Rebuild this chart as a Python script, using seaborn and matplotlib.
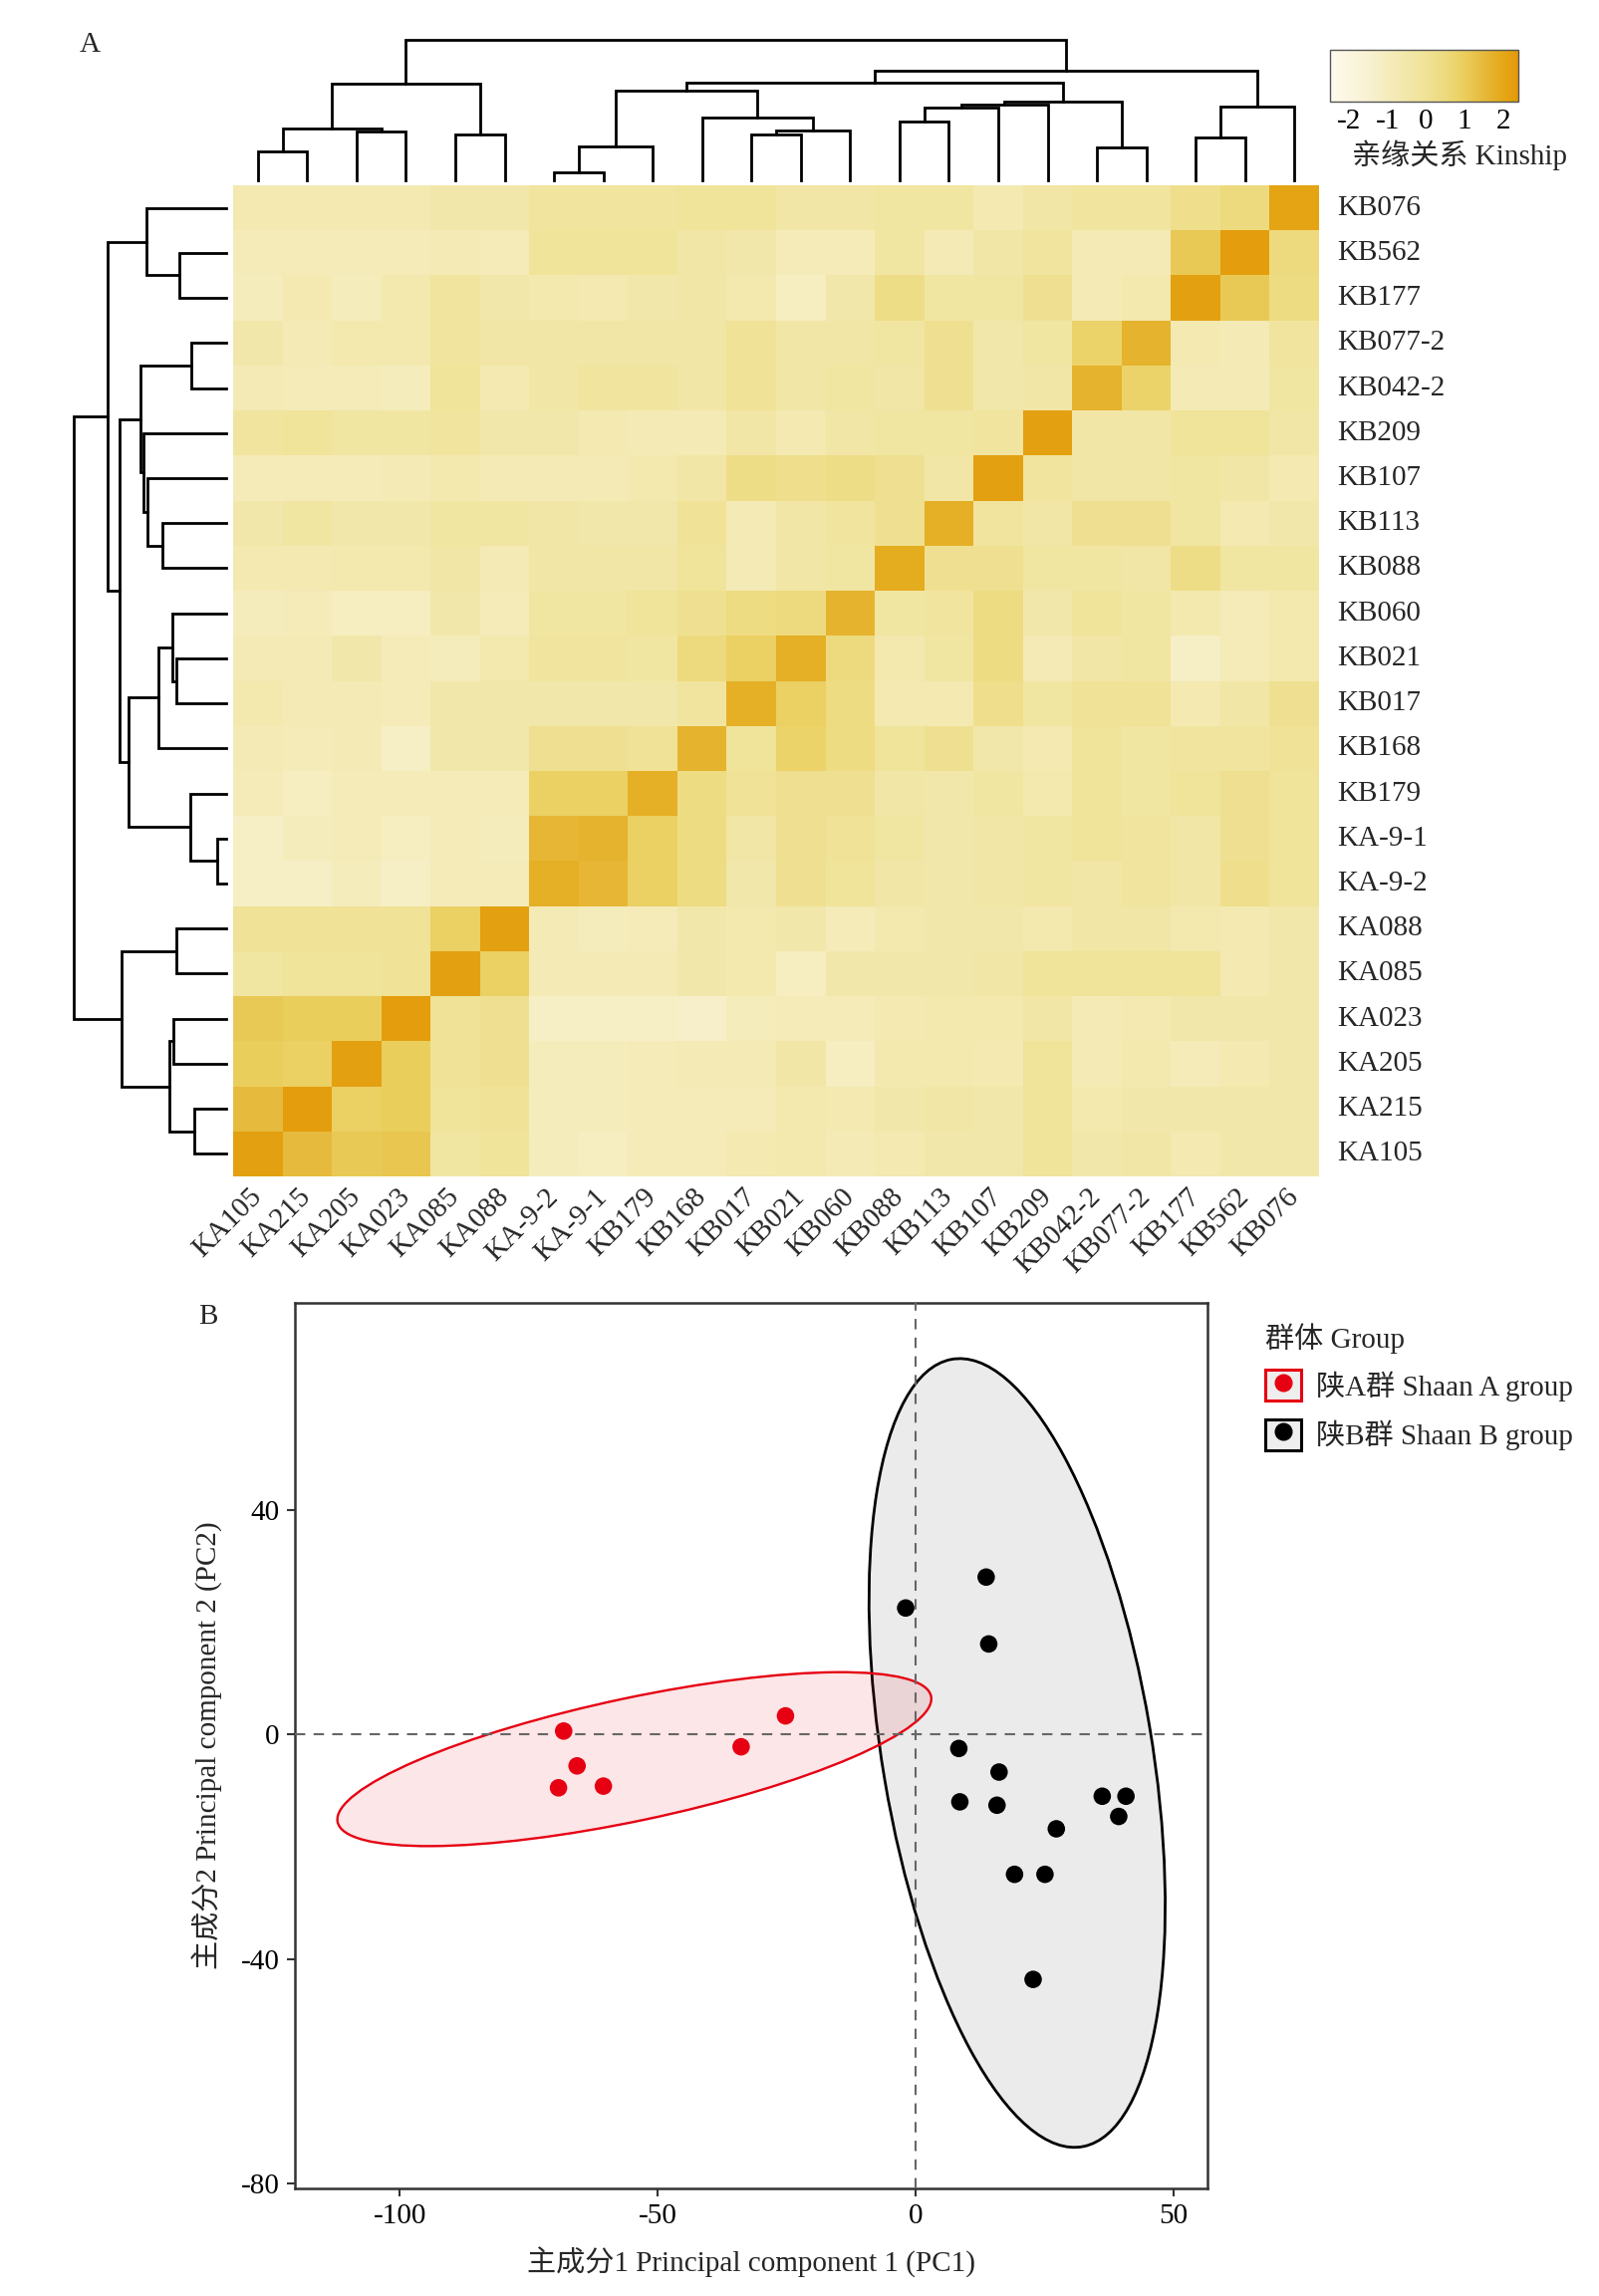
import numpy as np
import pandas as pd
import matplotlib
matplotlib.use("Agg")
import matplotlib.pyplot as plt
import seaborn as sns
from matplotlib.colors import LinearSegmentedColormap
from matplotlib.patches import Ellipse, Rectangle
from matplotlib.lines import Line2D

# ---------------- data: panel A ----------------
sample_order = ["KA105", "KA215", "KA205", "KA023", "KA085", "KA088", "KA-9-2", "KA-9-1",
                "KB179", "KB168", "KB017", "KB021", "KB060", "KB088", "KB113", "KB107",
                "KB209", "KB042-2", "KB077-2", "KB177", "KB562", "KB076"]
row_labels = sample_order[::-1]

kinship = [
    [-0.7, -0.7, -0.7, -0.7, -0.5, -0.5, -0.2, -0.2, -0.2, -0.1, -0.1, -0.4, -0.4, -0.3, -0.3, -0.7, -0.4, -0.2, -0.2, 0.2, 0.5, 2.1],
    [-0.9, -0.9, -0.9, -0.9, -0.8, -0.9, -0.1, -0.1, -0.1, -0.4, -0.5, -0.9, -0.9, -0.3, -0.8, -0.4, -0.2, -0.8, -0.8, 1.1, 2.3, 0.5],
    [-1.0, -0.7, -1.0, -0.6, -0.2, -0.5, -0.6, -0.7, -0.5, -0.4, -0.6, -1.1, -0.5, 0.3, -0.3, -0.3, 0.1, -0.8, -0.6, 2.2, 1.1, 0.4],
    [-0.5, -0.8, -0.6, -0.6, -0.2, -0.4, -0.4, -0.4, -0.4, -0.4, 0.0, -0.4, -0.4, -0.3, 0.1, -0.5, -0.3, 0.8, 1.7, -0.7, -0.8, -0.2],
    [-0.8, -0.9, -0.9, -1.0, -0.1, -0.7, -0.4, -0.2, -0.2, -0.4, 0.0, -0.4, -0.3, -0.4, 0.1, -0.5, -0.4, 1.7, 0.8, -0.8, -0.8, -0.3],
    [-0.2, -0.1, -0.3, -0.3, -0.2, -0.5, -0.5, -0.7, -0.8, -0.8, -0.4, -0.7, -0.4, -0.3, -0.3, -0.2, 2.2, -0.4, -0.4, -0.1, -0.1, -0.4],
    [-0.9, -0.9, -0.9, -0.8, -0.6, -0.8, -0.8, -0.8, -0.6, -0.4, 0.3, 0.2, 0.3, 0.1, -0.4, 2.2, -0.2, -0.4, -0.4, -0.3, -0.4, -0.7],
    [-0.5, -0.3, -0.5, -0.5, -0.3, -0.3, -0.4, -0.5, -0.5, 0.0, -0.8, -0.4, -0.2, 0.1, 1.8, -0.2, -0.4, 0.1, 0.1, -0.3, -0.7, -0.5],
    [-0.7, -0.7, -0.6, -0.6, -0.4, -0.8, -0.4, -0.4, -0.4, -0.1, -0.8, -0.4, -0.3, 1.9, 0.1, 0.1, -0.3, -0.3, -0.4, 0.3, -0.3, -0.3],
    [-1.0, -0.9, -1.1, -1.1, -0.5, -0.9, -0.3, -0.3, -0.1, 0.1, 0.4, 0.5, 1.7, -0.3, -0.2, 0.4, -0.5, -0.1, -0.3, -0.6, -0.9, -0.6],
    [-0.8, -0.8, -0.5, -0.9, -1.0, -0.6, -0.2, -0.2, -0.3, 0.5, 0.9, 1.8, 0.5, -0.6, -0.3, 0.4, -0.8, -0.4, -0.3, -1.2, -0.9, -0.6],
    [-0.6, -0.8, -0.8, -0.9, -0.5, -0.5, -0.5, -0.5, -0.5, -0.2, 1.8, 0.9, 0.4, -0.7, -0.7, 0.2, -0.3, 0.0, 0.0, -0.7, -0.4, 0.1],
    [-0.8, -0.9, -0.8, -1.2, -0.5, -0.5, 0.1, 0.1, 0.0, 1.7, -0.1, 0.8, 0.4, -0.1, 0.1, -0.5, -0.7, -0.1, -0.3, -0.2, -0.2, 0.0],
    [-0.9, -1.1, -0.9, -0.9, -0.9, -0.9, 0.9, 0.9, 1.8, 0.4, 0.0, 0.1, 0.1, -0.4, -0.5, -0.3, -0.6, -0.1, -0.3, -0.1, 0.1, -0.1],
    [-1.2, -1.0, -0.9, -1.1, -0.9, -1.0, 1.6, 1.7, 0.9, 0.4, -0.4, 0.1, 0.0, -0.3, -0.5, -0.4, -0.3, -0.1, -0.2, -0.4, 0.1, -0.1],
    [-1.2, -1.2, -1.0, -1.2, -0.9, -0.9, 1.8, 1.6, 0.9, 0.4, -0.5, 0.1, -0.1, -0.4, -0.5, -0.4, -0.3, -0.4, -0.2, -0.4, 0.2, -0.1],
    [0.0, 0.0, 0.0, 0.0, 0.9, 2.2, -0.8, -1.0, -0.9, -0.5, -0.6, -0.5, -0.9, -0.6, -0.5, -0.5, -0.6, -0.4, -0.4, -0.6, -0.7, -0.5],
    [-0.3, -0.1, -0.1, 0.0, 2.2, 0.9, -0.8, -0.8, -0.8, -0.5, -0.6, -1.1, -0.5, -0.5, -0.5, -0.4, -0.1, -0.1, -0.1, -0.1, -0.7, -0.5],
    [1.1, 1.0, 1.0, 2.3, 0.0, 0.1, -1.2, -1.2, -1.2, -1.3, -1.0, -0.9, -0.9, -0.7, -0.6, -0.6, -0.4, -0.8, -0.7, -0.5, -0.5, -0.5],
    [1.0, 0.9, 2.2, 1.0, 0.0, 0.1, -1.0, -1.0, -0.9, -0.8, -0.8, -0.4, -1.1, -0.6, -0.6, -0.7, -0.1, -0.8, -0.6, -0.9, -0.7, -0.5],
    [1.5, 2.3, 0.9, 1.0, -0.1, 0.0, -1.0, -1.0, -0.9, -0.9, -0.9, -0.6, -0.7, -0.5, -0.4, -0.5, -0.1, -0.6, -0.5, -0.5, -0.5, -0.5],
    [2.2, 1.5, 1.1, 1.2, -0.3, -0.1, -1.0, -1.1, -0.9, -0.9, -0.7, -0.6, -0.8, -0.7, -0.5, -0.5, -0.1, -0.5, -0.4, -0.7, -0.5, -0.5],
]

# hierarchical clustering tree (scipy-style ids: leaves 0..21 in sample_order)
link_left = [6, 0, 17, 22, 19, 4, 10, 2, 28, 23, 13, 9, 32, 26, 34, 36, 25, 31, 38, 40, 39]
link_right = [7, 1, 18, 8, 20, 5, 11, 3, 12, 29, 14, 30, 15, 21, 16, 24, 33, 27, 37, 35, 41]
link_height = [8.0, 29.0, 32.6, 33.5, 43.3, 45.5, 46.0, 49.0, 50.0, 52.2, 59.0, 62.5,
               72.8, 73.7, 75.9, 79.0, 90.2, 96.9, 98.2, 109.4, 140.6]

cbar_ticks = [-2, -1, 0, 1, 2]
color_values = [-2.5, -1.5, -1.0, -0.5, 0.0, 0.5, 1.0, 1.5, 2.0, 2.4]
color_list = ["#FDFAEE", "#F8F1D2", "#F5ECBC", "#F2E7AA", "#F0E296", "#EDDA7E",
              "#EACE5C", "#E6BA3C", "#E4A818", "#E3990A"]

# ---------------- data: panel B ----------------
pc_group = ["陕A群 Shaan A group"] * 6 + ["陕B群 Shaan B group"] * 14
pc1 = [-68.2, -65.6, -69.2, -60.5, -33.8, -25.2,
       -1.9, 13.7, 14.2, 8.4, 16.2, 8.6, 15.8, 27.3, 19.2, 25.1, 36.2, 40.8, 39.4, 22.8]
pc2 = [0.6, -5.6, -9.5, -9.2, -2.2, 3.3,
       22.5, 28.0, 16.1, -2.5, -6.7, -12.0, -12.6, -16.8, -24.9, -24.9, -11.0, -11.0, -14.6, -43.6]
ell_cx = [-54.5, 19.7]
ell_cy = [-4.4, -3.3]
ell_major = [117.2, 142.4]
ell_minor = [21.9, 52.2]
ell_angle = [10.95, -79.6]
group_names = ["陕A群 Shaan A group", "陕B群 Shaan B group"]
group_colors = ["#E60012", "#000000"]

# ---------------- style ----------------
sns.set_theme(style="white")
plt.rcParams["font.family"] = ["Liberation Serif", "Noto Sans CJK SC"]
plt.rcParams["axes.unicode_minus"] = False
FS = 21
plt.rcParams["font.size"] = FS

W, H = 1605, 2305
fig = plt.figure(figsize=(W / 100, H / 100), dpi=100)


def fax(x0, y0, x1, y1):
    return fig.add_axes([x0 / W, 1 - y1 / H, (x1 - x0) / W, (y1 - y0) / H])


ax_hm = fax(234, 186, 1324, 1181)
ax_col = fax(234, 40, 1324, 181)
ax_row = fax(74, 186, 227, 1181)
cax = fax(1335, 50, 1524, 102)

vmin, vmax = -2.5, 2.4
cmap = LinearSegmentedColormap.from_list(
    "kin", [((v - vmin) / (vmax - vmin), c) for v, c in zip(color_values, color_list)])

df = pd.DataFrame(kinship, index=row_labels, columns=sample_order)
sns.heatmap(df, ax=ax_hm, cmap=cmap, vmin=vmin, vmax=vmax, cbar_ax=cax,
            cbar_kws={"orientation": "horizontal", "ticks": cbar_ticks},
            xticklabels=True, yticklabels=True, linewidths=0)

ax_hm.yaxis.tick_right()
ax_hm.tick_params(axis="y", length=0, pad=13, labelrotation=0, labelsize=FS)
ax_hm.tick_params(axis="x", length=0, pad=12, labelsize=FS)
ax_hm.set_xticklabels(sample_order, rotation=45, ha="right", va="center",
                      rotation_mode="anchor")
ax_hm.set_yticklabels(row_labels, rotation=0, va="center")
ax_hm.set_xlabel("")
ax_hm.set_ylabel("")

cb = ax_hm.collections[0].colorbar
cb.outline.set_edgecolor("#555555")
cb.outline.set_linewidth(1.0)
cax.tick_params(axis="x", direction="in", length=5, width=1, colors="#333333",
                labelcolor="black", labelsize=FS, pad=5)
cax.set_xticklabels([str(t) for t in cbar_ticks])
cax.text(0.69, -1.04, "亲缘关系 Kinship", transform=cax.transAxes, ha="center",
         va="center", fontsize=FS)

# dendrograms
n = len(sample_order)


def dendro_segments(leaf_pos):
    pos = {i: p for i, p in enumerate(leaf_pos)}
    hgt = {i: 0.0 for i in range(n)}
    segs = []
    for k, (l, r, h) in enumerate(zip(link_left, link_right, link_height)):
        segs.append(([pos[l], pos[l], pos[r], pos[r]], [hgt[l], h, h, hgt[r]]))
        pos[n + k] = (pos[l] + pos[r]) / 2.0
        hgt[n + k] = h
    return segs


top_h = max(link_height)
for xs, ys in dendro_segments([j + 0.5 for j in range(n)]):
    ax_col.plot(xs, ys, color="black", lw=2.0, clip_on=False, solid_capstyle="projecting",
                solid_joinstyle="miter")
ax_col.set_xlim(0, n)
ax_col.set_ylim(0, top_h)
ax_col.axis("off")

for ps, hs in dendro_segments([(n - 1 - j) + 0.5 for j in range(n)]):
    ax_row.plot(hs, ps, color="black", lw=2.0, clip_on=False, solid_capstyle="projecting",
                solid_joinstyle="miter")
ax_row.set_xlim(top_h, 0)
ax_row.set_ylim(n, 0)
ax_row.axis("off")

fig.text(90 / W, 1 - 45 / H, "A", ha="center", va="center", fontsize=FS)

# ---------------- panel B ----------------
ax_pc = fax(296, 1308, 1212, 2197)
pc_df = pd.DataFrame({"PC1": pc1, "PC2": pc2, "group": pc_group})

ell_face = ["#E8101A", "#EBEBEB"]
ell_alpha = [0.1, 1.0]
ell_edge = ["#E60012", "#000000"]
ell_lw = [1.7, 2.0]
ell_z = [2, 1]
for i in range(2):
    e = Ellipse((ell_cx[i], ell_cy[i]), ell_major[i], ell_minor[i], angle=ell_angle[i],
                facecolor=matplotlib.colors.to_rgba(ell_face[i], ell_alpha[i]),
                edgecolor=ell_edge[i], lw=ell_lw[i], zorder=ell_z[i])
    ax_pc.add_patch(e)

ax_pc.axhline(0, color="#666666", lw=1.5, ls=(0, (5, 4)), zorder=3)
ax_pc.axvline(0, color="#666666", lw=1.5, ls=(0, (5, 4)), zorder=3)

sns.scatterplot(data=pc_df, x="PC1", y="PC2", hue="group", hue_order=group_names,
                palette=dict(zip(group_names, group_colors)), s=160, linewidth=0,
                ax=ax_pc, legend=False, zorder=4)

ax_pc.set_xlim(-120.3, 56.6)
ax_pc.set_ylim(-80.8, 76.8)
ax_pc.set_xticks([-100, -50, 0, 50])
ax_pc.set_yticks([-80, -40, 0, 40])
ax_pc.tick_params(bottom=True, left=True, direction="out", length=6, width=1.5,
                  colors="#333333", labelcolor="black", labelsize=FS, pad=5)
for sp in ax_pc.spines.values():
    sp.set_edgecolor("#333333")
    sp.set_linewidth(1.8)
ax_pc.set_xlabel("主成分1 Principal component 1 (PC1)", fontsize=FS, labelpad=13)
ax_pc.set_ylabel("主成分2 Principal component 2 (PC2)", fontsize=FS, labelpad=13)

handles = []
for c in group_colors:
    box = Rectangle((0, 0), 1, 1, facecolor="#EEEEEE", edgecolor=c, lw=2.2)
    dot = Line2D([], [], marker="o", ls="", color=c, markersize=12)
    handles.append((box, dot))
leg = fig.legend(handles, group_names, loc="upper left",
                 bbox_to_anchor=(1270 / W, 1 - 1328 / H), bbox_transform=fig.transFigure,
                 title="群体 Group", frameon=False, alignment="left",
                 handlelength=1.25, handleheight=1.25, handletextpad=0.5,
                 labelspacing=0.62, borderpad=0, borderaxespad=0, fontsize=FS,
                 title_fontsize=FS)
leg._legend_box.sep = 12

fig.text(209 / W, 1 - 1322 / H, "B", ha="center", va="center", fontsize=FS)

fig.savefig("out.png", dpi=100, facecolor="white")
